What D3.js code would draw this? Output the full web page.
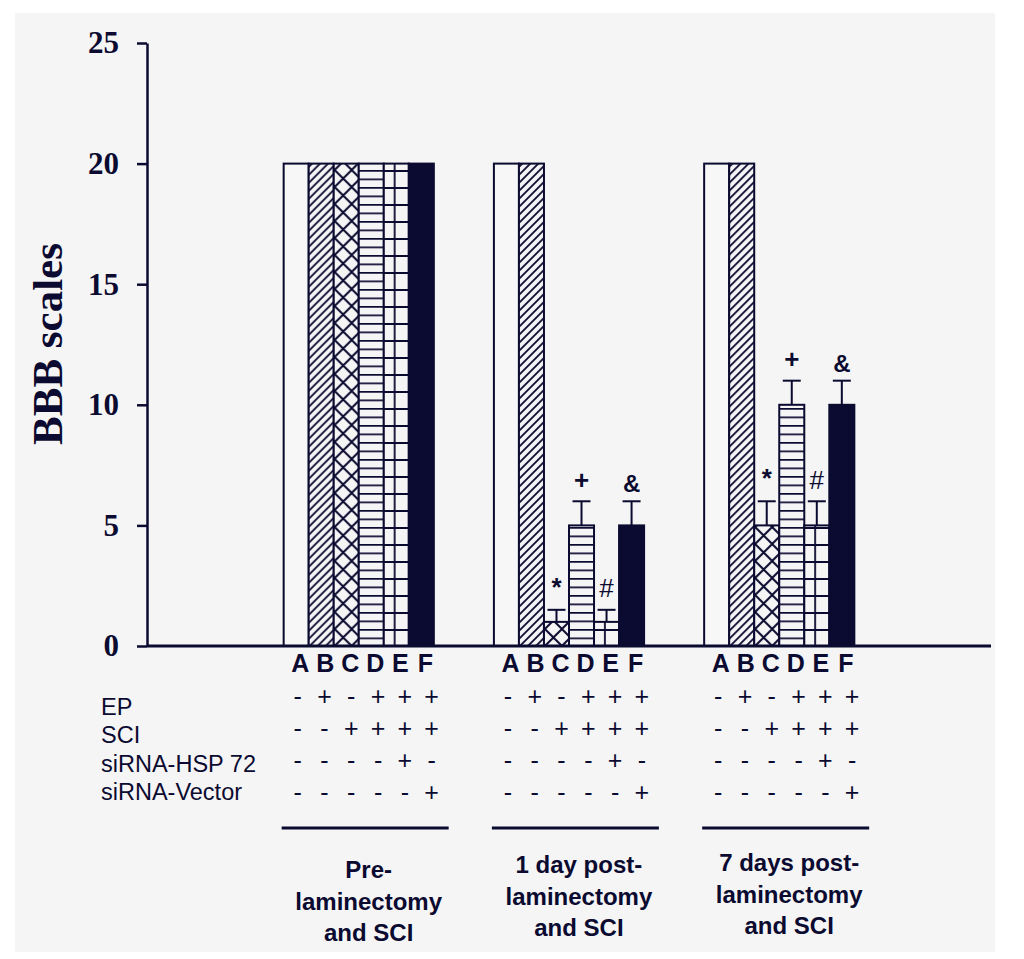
<!DOCTYPE html>
<html>
<head>
<meta charset="utf-8">
<script src="https://cdn.jsdelivr.net/npm/d3@7"></script>
<style>
  html, body { margin: 0; padding: 0; background: #ffffff; }
  svg { display: block; }
</style>
</head>
<body>
<svg id="chart" width="1024" height="959"></svg>
<script>
// ---------------- DATA ----------------
const groups = ["Pre", "Day1", "Day7"];
const groupLabels = [
  ["Pre-", "laminectomy", "and SCI"],
  ["1 day post-", "laminectomy", "and SCI"],
  ["7 days post-", "laminectomy", "and SCI"]
];
const bars = ["A", "B", "C", "D", "E", "F"];
const preValues  = [20, 20, 20, 20, 20, 20];
const day1Values = [20, 20, 1, 5, 1, 5];
const day7Values = [20, 20, 5, 10, 5, 10];
const preErrors  = [0, 0, 0, 0, 0, 0];
const day1Errors = [0, 0, 0.5, 1, 0.5, 1];
const day7Errors = [0, 0, 1, 1, 1, 1];
const preMarks  = ["", "", "", "", "", ""];
const day1Marks = ["", "", "*", "+", "#", "&"];
const day7Marks = ["", "", "*", "+", "#", "&"];
const yTicks = [0, 5, 10, 15, 20, 25];
const yTitle = "BBB scales";
const rowNames = ["EP", "SCI", "siRNA-HSP 72", "siRNA-Vector"];
const epSigns     = ["-", "+", "-", "+", "+", "+"];
const sciSigns    = ["-", "-", "+", "+", "+", "+"];
const hspSigns    = ["-", "-", "-", "-", "+", "-"];
const vectorSigns = ["-", "-", "-", "-", "-", "+"];

const groupValues = [preValues, day1Values, day7Values];
const groupErrors = [preErrors, day1Errors, day7Errors];
const groupMarks = [preMarks, day1Marks, day7Marks];
const signRows = [epSigns, sciSigns, hspSigns, vectorSigns];

// ---------------- STYLE ----------------
const ink = "#0b0a30";
const svg = d3.select("#chart");

svg.append("rect").attr("x", 15).attr("y", 13).attr("width", 980).attr("height", 939)
  .attr("fill", "#f5f5f5");

const defs = svg.append("defs");
// B: diagonal
const pB = defs.append("pattern").attr("id", "pB").attr("patternUnits", "userSpaceOnUse")
  .attr("width", 8).attr("height", 8);
pB.append("rect").attr("width", 8).attr("height", 8).attr("fill", "#f5f5f5");
pB.append("path").attr("d", "M0,8 L8,0 M-2,2 L2,-2 M6,10 L10,6")
  .attr("stroke", ink).attr("stroke-width", 1.8);
// C: crosshatch
const pC = defs.append("pattern").attr("id", "pC").attr("patternUnits", "userSpaceOnUse")
  .attr("width", 17).attr("height", 17);
pC.append("rect").attr("width", 17).attr("height", 17).attr("fill", "#f5f5f5");
pC.append("path").attr("d", "M0,0 L17,17 M0,17 L17,0")
  .attr("stroke", ink).attr("stroke-width", 2);
// D: horizontal lines
const pD = defs.append("pattern").attr("id", "pD").attr("patternUnits", "userSpaceOnUse")
  .attr("width", 10).attr("height", 8.5).attr("y", 646 % 8.5);
pD.append("rect").attr("width", 10).attr("height", 8.5).attr("fill", "#f5f5f5");
pD.append("path").attr("d", "M0,0.8 L10,0.8").attr("stroke", ink).attr("stroke-width", 1.8);
// E: grid
const pE = defs.append("pattern").attr("id", "pE").attr("patternUnits", "userSpaceOnUse")
  .attr("width", 17).attr("height", 17).attr("x", 8).attr("y", 646 % 17);
pE.append("rect").attr("width", 17).attr("height", 17).attr("fill", "#f5f5f5");
pE.append("path").attr("d", "M0,1 L17,1 M1,0 L1,17").attr("stroke", ink).attr("stroke-width", 1.8);

const barFills = ["#f7f7f7", "url(#pB)", "url(#pC)", "url(#pD)", "url(#pE)", ink];

// ---------------- SCALES ----------------
const y = d3.scaleLinear().domain([0, 25]).range([646, 43]);
const x0 = d3.scaleBand().domain(groups).range([147, 991]).paddingInner(0.2857).paddingOuter(0.65);
const x1 = d3.scaleBand().domain(bars).range([0, x0.bandwidth()]).padding(0);
const xs = d3.scalePoint().domain(bars).range([14, 148]);

// ---------------- BARS ----------------
groups.forEach((g, gi) => {
  const gx = x0(g);
  const G = svg.append("g").attr("transform", `translate(${gx},0)`);
  const data = bars.map((b, i) => ({ b, i, v: groupValues[gi][i], e: groupErrors[gi][i], m: groupMarks[gi][i] }));

  G.selectAll("rect.bar").data(data).join("rect")
    .attr("class", "bar")
    .attr("x", d => x1(d.b))
    .attr("y", d => y(d.v))
    .attr("width", x1.bandwidth())
    .attr("height", d => y(0) - y(d.v))
    .attr("fill", d => barFills[d.i])
    .attr("stroke", ink).attr("stroke-width", 2);

  const err = data.filter(d => d.e > 0);
  G.selectAll("line.err").data(err).join("line")
    .attr("x1", d => x1(d.b) + x1.bandwidth() / 2)
    .attr("x2", d => x1(d.b) + x1.bandwidth() / 2)
    .attr("y1", d => y(d.v))
    .attr("y2", d => y(d.v + d.e))
    .attr("stroke", ink).attr("stroke-width", 2);
  G.selectAll("line.cap").data(err).join("line")
    .attr("x1", d => x1(d.b) + x1.bandwidth() / 2 - 9)
    .attr("x2", d => x1(d.b) + x1.bandwidth() / 2 + 9)
    .attr("y1", d => y(d.v + d.e))
    .attr("y2", d => y(d.v + d.e))
    .attr("stroke", ink).attr("stroke-width", 2);

  const markDy = { "*": 14, "+": 12.5, "#": 12.5, "&": 9 };
  G.selectAll("text.mark").data(data.filter(d => d.m)).join("text")
    .attr("x", d => x1(d.b) + x1.bandwidth() / 2)
    .attr("y", d => y(d.v + d.e) - markDy[d.m])
    .attr("text-anchor", "middle")
    .attr("font-family", "Liberation Sans, Arial, sans-serif")
    .attr("font-weight", d => d.m === "#" ? "normal" : "bold")
    .attr("font-size", d => d.m === "&" ? 24 : 26)
    .attr("fill", ink)
    .text(d => d.m);

  // letters
  G.selectAll("text.letter").data(bars).join("text")
    .attr("x", d => x1(d) + x1.bandwidth() / 2 + 4)
    .attr("y", 672)
    .attr("text-anchor", "middle")
    .attr("font-family", "Liberation Sans, Arial, sans-serif")
    .attr("font-weight", "bold").attr("font-size", 25)
    .attr("fill", ink)
    .text(d => d);

  // sign rows
  signRows.forEach((row, ri) => {
    G.selectAll(`text.sign${ri}`).data(row).join("text")
      .attr("x", (d, i) => xs(bars[i]))
      .attr("y", 705 + ri * 32)
      .attr("text-anchor", "middle")
      .attr("font-family", "Liberation Sans, Arial, sans-serif")
      .attr("font-size", 25)
      .attr("fill", ink)
      .text(d => d);
  });

  // underline
  G.append("line").attr("x1", -2).attr("x2", 165).attr("y1", 828).attr("y2", 828)
    .attr("stroke", ink).attr("stroke-width", 3);

  // group labels
  const off = [4, -1, -3][gi];
  G.selectAll("text.glabel").data(groupLabels[gi]).join("text")
    .attr("x", 85)
    .attr("y", (d, i) => 874 + off + i * 31.5)
    .attr("text-anchor", "middle")
    .attr("font-family", "Liberation Sans, Arial, sans-serif")
    .attr("font-weight", "bold").attr("font-size", 24)
    .attr("fill", ink)
    .text(d => d);
});

// ---------------- AXES ----------------
const yAxis = svg.append("g").attr("transform", "translate(147,0)")
  .call(d3.axisLeft(y).tickValues(yTicks).tickSize(10).tickSizeOuter(0).tickPadding(18));
yAxis.select(".domain").attr("stroke", ink).attr("stroke-width", 2.5);
yAxis.selectAll(".tick line").attr("stroke", ink).attr("stroke-width", 2.5);
yAxis.selectAll(".tick text")
  .attr("font-family", "Liberation Serif, Times New Roman, serif")
  .attr("font-weight", "bold").attr("font-size", 31)
  .attr("fill", ink);

svg.append("line").attr("x1", 147).attr("x2", 991).attr("y1", y(0)).attr("y2", y(0))
  .attr("stroke", ink).attr("stroke-width", 3);

svg.append("text")
  .attr("transform", "translate(62,344) rotate(-90)")
  .attr("text-anchor", "middle")
  .attr("font-family", "Liberation Serif, Times New Roman, serif")
  .attr("font-weight", "bold").attr("font-size", 43)
  .attr("fill", ink)
  .text(yTitle);

// row labels
svg.selectAll("text.rowname").data(rowNames).join("text")
  .attr("x", 101)
  .attr("y", (d, i) => [715, 743, 772, 800][i])
  .attr("font-family", "Liberation Sans, Arial, sans-serif")
  .attr("font-size", 23.5)
  .attr("fill", ink)
  .text(d => d);
</script>
</body>
</html>
